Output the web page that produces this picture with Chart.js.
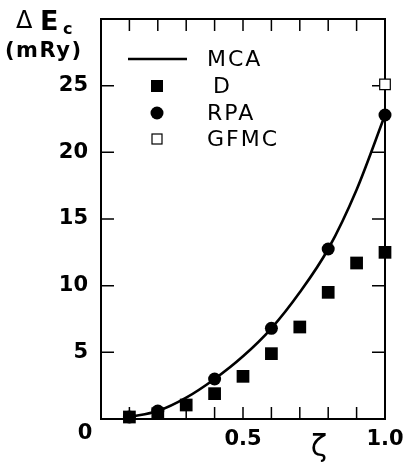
<!DOCTYPE html>
<html>
<head>
<meta charset="utf-8">
<script src="https://cdn.jsdelivr.net/npm/chart.js@4"></script>
<style>
  html, body { margin: 0; padding: 0; background: #fff; }
  #wrap { width: 406px; height: 464px; }
</style>
</head>
<body>
<div id="wrap"><canvas id="ecChart" width="406" height="464"></canvas></div>
<script>
// values (zeta vs. Delta E_c in mRy)
const mcaZeta = [0.1, 0.2, 0.3, 0.4, 0.5, 0.6, 0.7, 0.8, 0.9, 1.0];
const mcaVals = [0.15, 0.6, 1.6, 3.0, 4.7, 6.8, 9.5, 12.75, 17.2, 22.8];

const dZeta = [0.1, 0.2, 0.3, 0.4, 0.5, 0.6, 0.7, 0.8, 0.9, 1.0];
const dVals = [0.15, 0.4, 1.05, 1.9, 3.2, 4.9, 6.9, 9.5, 11.7, 12.5];

const rpaZeta = [0.1, 0.2, 0.4, 0.6, 0.8, 1.0];
const rpaVals = [0.15, 0.6, 3.0, 6.8, 12.75, 22.8];

const gfmcZeta = [1.0];
const gfmcVals = [25.1];

const xTickLabels = { '0.5': '0.5', '1': '1.0' };
const yTickLabels = [5, 10, 15, 20, 25];

const legendItems = ['MCA', 'D', 'RPA', 'GFMC'];

function pts(xs, ys) {
    return xs.map((x, i) => ({ x: x, y: ys[i] }));
}

const FONT = '"DejaVu Sans", Arial, sans-serif';

// labels must not push the plot box in
function noPad(s) {
    s.paddingLeft = 0; s.paddingRight = 0;
    s.paddingTop = 0; s.paddingBottom = 0;
}

// box + inward tick marks on all four sides
const frame = {
    id: 'frame',
    beforeDatasetsDraw(chart) {
        const { ctx, chartArea: a, scales } = chart;
        ctx.save();
        ctx.strokeStyle = '#000';
        ctx.lineWidth = 1.5;
        scales.x.ticks.forEach(t => {
            if (t.value <= 0.001 || t.value >= 0.999) return;
            const px = scales.x.getPixelForValue(t.value);
            ctx.beginPath();
            ctx.moveTo(px, a.bottom); ctx.lineTo(px, a.bottom - 12);
            ctx.moveTo(px, a.top); ctx.lineTo(px, a.top + 12);
            ctx.stroke();
        });
        scales.y.ticks.forEach(t => {
            if (t.value <= 0 || t.value >= 30) return;
            const py = scales.y.getPixelForValue(t.value);
            ctx.beginPath();
            ctx.moveTo(a.left, py); ctx.lineTo(a.left + 13, py);
            ctx.moveTo(a.right, py); ctx.lineTo(a.right - 13, py);
            ctx.stroke();
        });
        ctx.lineWidth = 2;
        ctx.strokeRect(a.left, a.top, a.right - a.left, a.bottom - a.top);
        ctx.restore();
    },
    afterDraw(chart) {
        const { ctx, scales } = chart;
        ctx.save();
        ctx.fillStyle = '#000';
        ctx.textBaseline = 'middle';

        // axis titles
        ctx.textAlign = 'left';
        ctx.font = '24px ' + FONT;
        ctx.fillText('\u0394', 16, 22);
        ctx.font = 'bold 27px ' + FONT;
        ctx.fillText('E', 40, 23);
        ctx.font = 'bold 16px ' + FONT;
        ctx.fillText('c', 63, 30);
        ctx.font = 'bold 21px ' + FONT;
        ctx.letterSpacing = '1.5px';
        ctx.fillText('(mRy)', 5, 52);
        ctx.letterSpacing = '0px';

        // origin label
        ctx.textAlign = 'center';
        ctx.font = 'bold 21px ' + FONT;
        ctx.fillText('0', scales.x.getPixelForValue(0) - 16, scales.y.getPixelForValue(0) + 15);

        ctx.font = '30px ' + FONT;
        ctx.fillText('\u03B6', 319, 448);

        // legend
        const mx = 157;
        const rows = [59, 86, 113, 139];
        ctx.strokeStyle = '#000';
        ctx.lineWidth = 2.4;
        ctx.beginPath();
        ctx.moveTo(128, rows[0]); ctx.lineTo(187, rows[0]);
        ctx.stroke();
        ctx.fillRect(mx - 6, rows[1] - 6, 12, 12);
        ctx.beginPath();
        ctx.arc(mx, rows[2], 6.5, 0, Math.PI * 2);
        ctx.fill();
        ctx.fillStyle = '#fff';
        ctx.fillRect(mx - 5, rows[3] - 5, 10, 10);
        ctx.lineWidth = 1.2;
        ctx.strokeRect(mx - 5, rows[3] - 5, 10, 10);
        ctx.fillStyle = '#000';

        ctx.textAlign = 'left';
        ctx.font = '22px ' + FONT;
        ctx.letterSpacing = '2px';
        const lx = [207, 213, 207, 207];
        legendItems.forEach((s, i) => ctx.fillText(s, lx[i], rows[i] + 1));
        ctx.restore();
    }
};

const ctx = document.getElementById('ecChart');
const ecChart = new Chart(ctx, {
    type: 'scatter',
    data: {
        datasets: [
            {
                label: 'MCA',
                type: 'line',
                data: pts(mcaZeta, mcaVals),
                borderColor: '#000',
                borderWidth: 2.6,
                pointRadius: 0,
                cubicInterpolationMode: 'monotone',
                fill: false,
                clip: false
            },
            {
                label: 'D',
                data: pts(dZeta, dVals),
                pointStyle: 'rect',
                pointRadius: 9,
                backgroundColor: '#000',
                borderColor: '#000',
                borderWidth: 0,
                clip: false
            },
            {
                label: 'RPA',
                data: pts(rpaZeta, rpaVals),
                pointStyle: 'circle',
                pointRadius: 6.5,
                backgroundColor: '#000',
                borderColor: '#000',
                borderWidth: 0,
                clip: false
            },
            {
                label: 'GFMC',
                data: pts(gfmcZeta, gfmcVals),
                pointStyle: 'rect',
                pointRadius: 7.5,
                backgroundColor: '#fff',
                borderColor: '#000',
                borderWidth: 1.2,
                clip: false
            }
        ]
    },
    options: {
        responsive: false,
        animation: false,
        events: [],
        layout: { padding: { left: 0, top: 19, right: 21, bottom: 0 } },
        plugins: {
            legend: { display: false },
            tooltip: { enabled: false }
        },
        scales: {
            x: {
                type: 'linear',
                min: 0,
                max: 1,
                grid: { display: false, drawTicks: false },
                border: { display: false },
                afterFit: s => { s.height = 45; noPad(s); },
                ticks: {
                    stepSize: 0.1,
                    autoSkip: false,
                    maxRotation: 0,
                    padding: 8,
                    color: '#000',
                    font: { family: FONT, size: 21, weight: 'bold' },
                    callback: v => {
                        const k = String(Math.round(v * 10) / 10);
                        return xTickLabels[k] || '';
                    }
                }
            },
            y: {
                min: 0,
                max: 30,
                grid: { display: false, drawTicks: false },
                border: { display: false },
                afterFit: s => { s.width = 101; noPad(s); },
                ticks: {
                    stepSize: 5,
                    padding: 13,
                    color: '#000',
                    font: { family: FONT, size: 21, weight: 'bold' },
                    callback: v => yTickLabels.includes(v) ? String(v) : ''
                }
            }
        }
    },
    plugins: [frame]
});
</script>
</body>
</html>
